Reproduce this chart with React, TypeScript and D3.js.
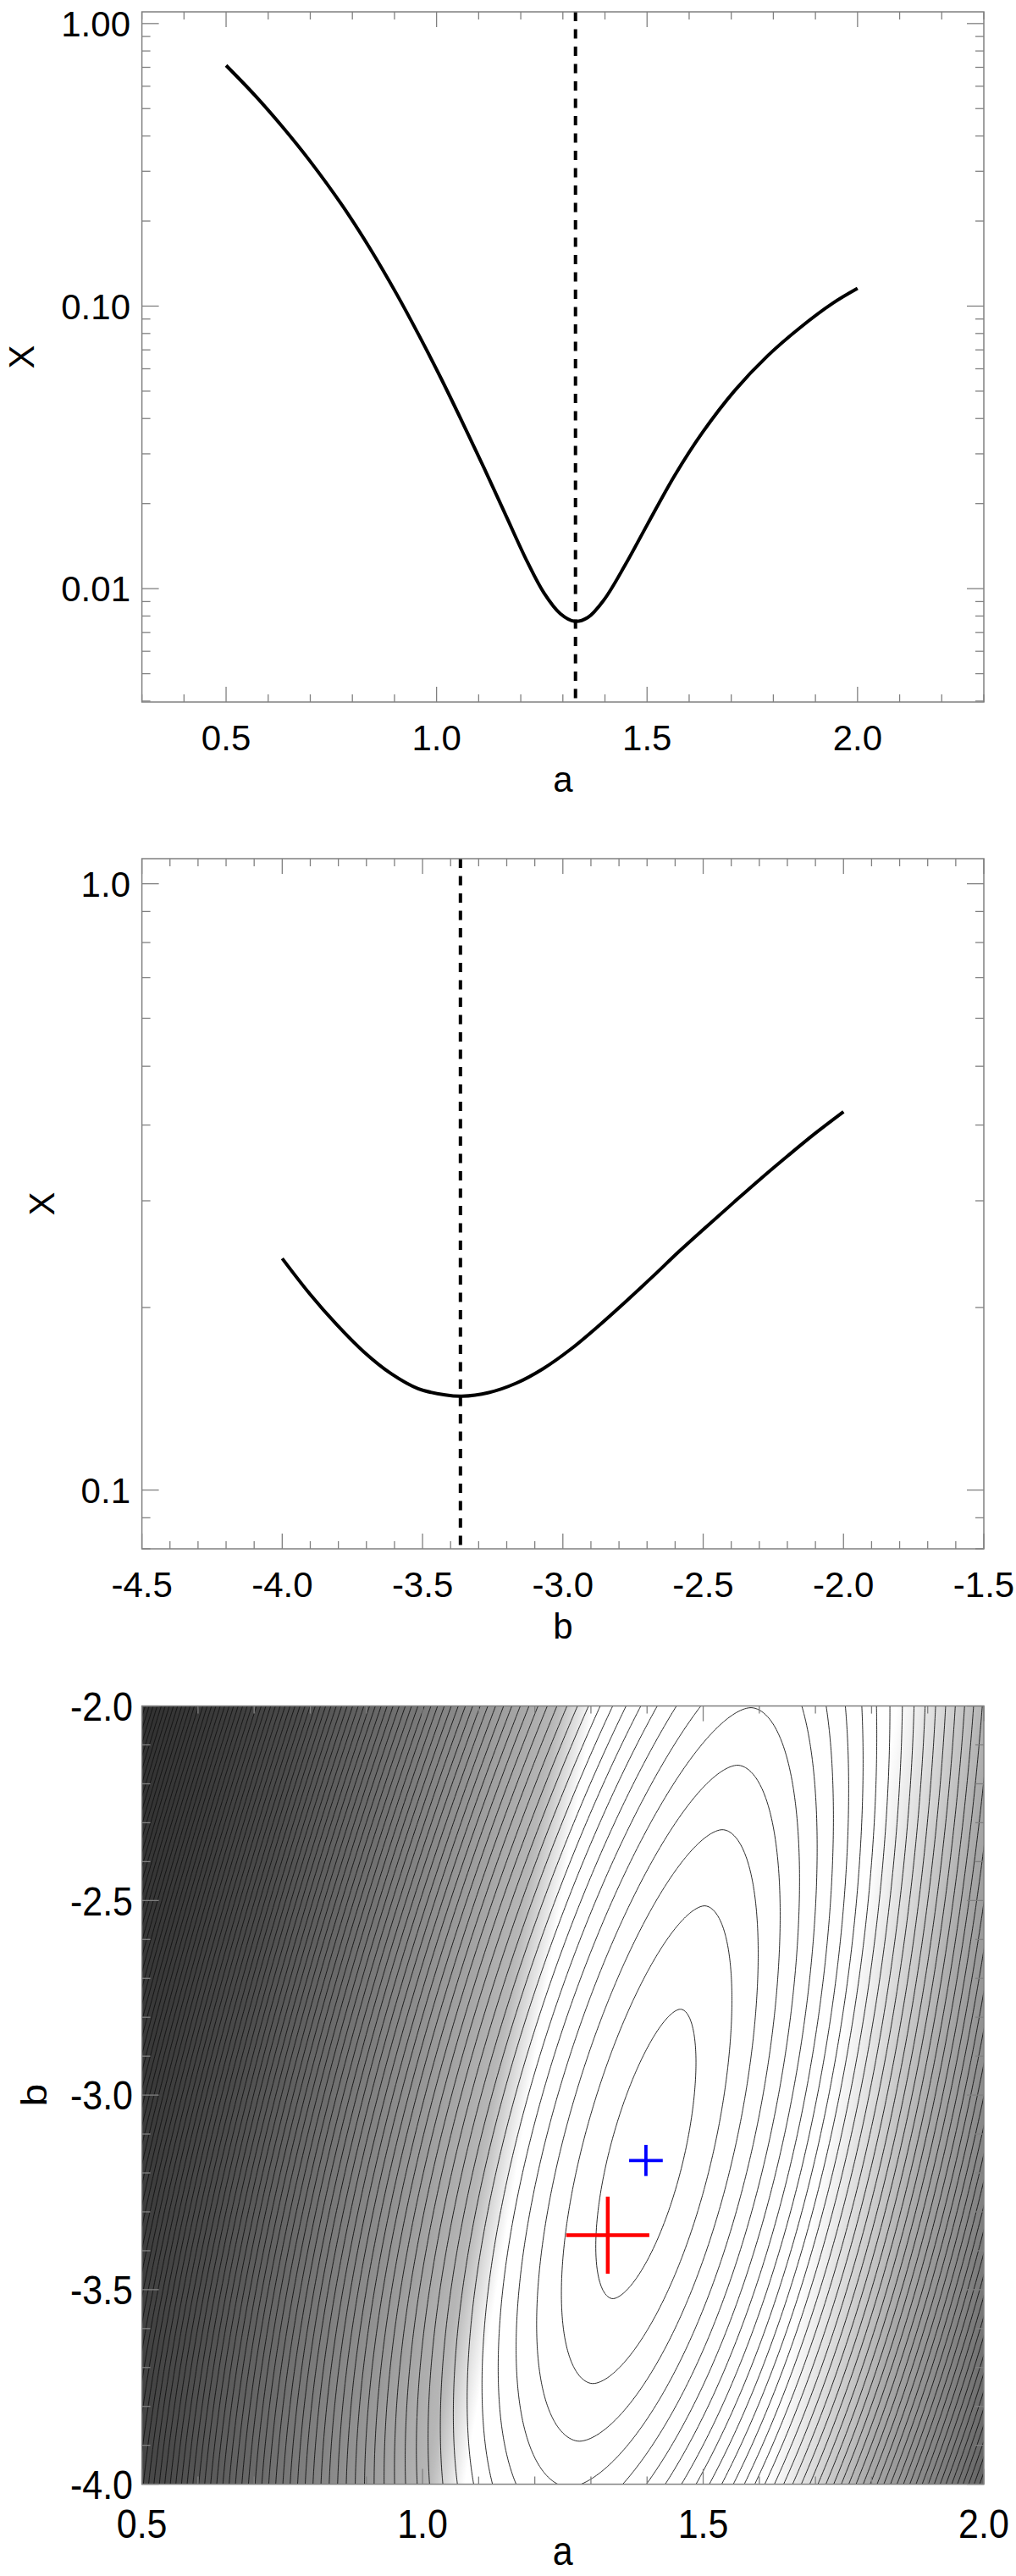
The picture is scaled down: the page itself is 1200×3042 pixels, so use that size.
import React, { useEffect, useRef } from 'react';
import * as d3 from 'd3';

// top panel: X against a
const profileA = [0.5, 0.569, 0.633, 0.698, 0.776, 0.841, 0.905, 0.957, 1.009, 1.061, 1.113, 1.165, 1.216, 1.255, 1.294, 1.328, 1.359, 1.398, 1.449, 1.501, 1.566, 1.631, 1.708, 1.786, 1.864, 1.941, 2.0];
const profileAX = [0.711, 0.556, 0.4325, 0.328, 0.227, 0.1607, 0.1104, 0.0794, 0.0561, 0.0389, 0.0267, 0.0181, 0.0124, 0.00966, 0.00815, 0.00766, 0.0079, 0.00914, 0.0122, 0.0169, 0.0252, 0.0356, 0.0502, 0.0666, 0.084, 0.1023, 0.1155];
const bestA = 1.33;

// middle panel: X against b
const profileB = [-4.0, -3.903, -3.806, -3.709, -3.612, -3.516, -3.419, -3.36, -3.264, -3.167, -3.07, -2.973, -2.876, -2.779, -2.682, -2.585, -2.488, -2.391, -2.295, -2.198, -2.101, -2.0];
const profileBX = [0.241, 0.211, 0.1875, 0.169, 0.1556, 0.147, 0.1435, 0.1428, 0.1448, 0.15, 0.1586, 0.1706, 0.186, 0.204, 0.2245, 0.2477, 0.272, 0.2982, 0.3262, 0.356, 0.3875, 0.4207];
const bestB = -3.365;

// axis ranges and labelled ticks
const range1A = [0.3, 2.3];
const range1X = [0.00397, 1.1];
const range2B = [-4.5, -1.5];
const range2X = [0.08, 1.1];
const range3A = [0.5, 2.0];
const range3B = [-4.0, -2.0];
const ticks1A = [0.5, 1.0, 1.5, 2.0];
const ticks1X = [0.01, 0.1, 1];
const ticks2B = [-4.5, -4.0, -3.5, -3.0, -2.5, -2.0, -1.5];
const ticks2X = [0.1, 1];
const ticks3A = [0.5, 1.0, 1.5, 2.0];
const ticks3B = [-4.0, -3.5, -3.0, -2.5, -2.0];

// bottom panel: surface
const surfMin = [1.397, -3.165];      // centre of the innermost contour
const surfTilt = 0.162;               // shift of the valley in a per unit of b
const surfAcross = [74, 1.8];         // growth across the valley
const surfAlong = [4.237, -0.6];      // growth along the valley
const firstLevel = 0.585;             // first contour, then one per unit
const shadeAxis = [[-4, 1.345], [-2, 1.575]]; // lightest line of the grey image (b, a)
const shadeW = [-1.25, -1.09, -0.94, -0.79, -0.64, -0.49, -0.335, -0.27, 0.27, 0.35, 0.45, 0.55, 0.65, 0.85];
const shadeGray = [0.18, 0.19, 0.23, 0.3, 0.42, 0.56, 0.72, 1, 1, 0.85, 0.66, 0.53, 0.4, 0.28];
const redCross = [1.33, -3.36, 0.074, 0.099];
const blueCross = [1.398, -3.168, 0.03, 0.04];

const FONT = "'Liberation Sans', Arial, Helvetica, sans-serif";
const AXIS = '#808080';

// IDL style labels use a plain hyphen for the minus sign
const fmt1 = (v) => d3.format('.1f')(v).replace('\u2212', '-');
const fmt2 = (v) => d3.format('.2f')(v).replace('\u2212', '-');

const App = () => {
  const ref = useRef<SVGSVGElement>(null);

  useEffect(() => {
    const svg = d3.select(ref.current);
    svg.selectAll('*').remove();

    const left = 167.6, right = 1162;

    const frame = (g, x, y, xMajor, xMinor, yMajor, yMinor) => {
      const [x0, x1] = x.range();
      const [y1, y0] = y.range();
      g.append('rect').attr('x', x0).attr('y', y0).attr('width', x1 - x0).attr('height', y1 - y0)
        .attr('fill', 'none').attr('stroke', AXIS).attr('stroke-width', 1.5);
      const xt = (vals, len) => vals.forEach(v => {
        const p = x(v);
        g.append('line').attr('x1', p).attr('x2', p).attr('y1', y1).attr('y2', y1 - len).attr('stroke', AXIS).attr('stroke-width', 1.3);
        g.append('line').attr('x1', p).attr('x2', p).attr('y1', y0).attr('y2', y0 + len).attr('stroke', AXIS).attr('stroke-width', 1.3);
      });
      const yt = (vals, len) => vals.forEach(v => {
        const p = y(v);
        g.append('line').attr('y1', p).attr('y2', p).attr('x1', x0).attr('x2', x0 + len).attr('stroke', AXIS).attr('stroke-width', 1.3);
        g.append('line').attr('y1', p).attr('y2', p).attr('x1', x1).attr('x2', x1 - len).attr('stroke', AXIS).attr('stroke-width', 1.3);
      });
      xt(xMinor, 9); xt(xMajor, 18);
      yt(yMinor, 10); yt(yMajor, 20);
    };

    const linMinor = (dom, major) => d3.range(Math.round(dom[0] * 10), Math.round(dom[1] * 10) + 1)
      .map(i => i / 10).filter(v => !major.some(m => Math.abs(m - v) < 1e-6));
    const logMinor = (dom) => {
      const out = [];
      [0.001, 0.01, 0.1, 1].forEach(d => d3.range(2, 10).forEach(k => {
        const v = k * d;
        if (v >= dom[0] && v <= dom[1]) out.push(v);
      }));
      return out;
    };

    const labels = (g, x, y, xVals, yVals, xFmt, yFmt, xTitle, yTitle, size, sy, yLabX, xLabDy, titleDy, yTitleX) => {
      const [x0, x1] = x.range();
      const [y1, y0] = y.range();
      xVals.forEach(v => {
        g.append('text').attr('transform', `translate(${x(v)},${y1 + xLabDy}) scale(1,${sy})`)
          .attr('text-anchor', 'middle').attr('font-family', FONT).attr('font-size', size).text(xFmt(v));
      });
      yVals.forEach(v => {
        g.append('text').attr('transform', `translate(${yLabX},${y(v) + size * 0.36 * sy}) scale(1,${sy})`)
          .attr('text-anchor', 'end').attr('font-family', FONT).attr('font-size', size).text(yFmt(v));
      });
      g.append('text').attr('transform', `translate(${(x0 + x1) / 2},${y1 + titleDy}) scale(1,${sy})`)
        .attr('text-anchor', 'middle').attr('font-family', FONT).attr('font-size', size).text(xTitle);
      g.append('text').attr('transform', `translate(${yTitleX},${(y0 + y1) / 2}) scale(1,${sy}) rotate(-90)`)
        .attr('text-anchor', 'middle').attr('font-family', FONT).attr('font-size', size).text(yTitle);
    };

    const profile = (top, bottom, xRange, yRange, xs, ys, best, xMajor, yMajor, yFmt, xTitle, yTitleX) => {
      const g = svg.append('g');
      const x = d3.scaleLinear().domain(xRange).range([left, right]);
      const y = d3.scaleLog().domain(yRange).range([bottom, top]);
      const line = d3.line<number>().x((d, i) => x(xs[i])).y(d => y(d)).curve(d3.curveCatmullRom.alpha(0.5));
      g.append('path').attr('d', line(ys)).attr('fill', 'none').attr('stroke', '#000')
        .attr('stroke-width', 4).attr('stroke-linejoin', 'round');
      g.append('line').attr('x1', x(best)).attr('x2', x(best)).attr('y1', top).attr('y2', bottom)
        .attr('stroke', '#000').attr('stroke-width', 4).attr('stroke-dasharray', '11 9.5');
      frame(g, x, y, xMajor, linMinor(xRange, xMajor), yMajor, logMinor(yRange));
      labels(g, x, y, xMajor, yMajor, fmt1, yFmt, xTitle, 'X', 42, 1, 154, 57, 106, yTitleX);
    };

    profile(14, 829, range1A, range1X, profileA, profileAX, bestA, ticks1A, ticks1X, fmt2, 'a', 40);
    profile(1014, 1829, range2B, range2X, profileB, profileBX, bestB, ticks2B, ticks2X, fmt1, 'b', 64);

    // contour map
    const top3 = 2014.6, bottom3 = 2933.6;
    const x3 = d3.scaleLinear().domain(range3A).range([left, right]);
    const y3 = d3.scaleLinear().domain(range3B).range([bottom3, top3]);
    const g3 = svg.append('g');
    const defs = svg.append('defs');
    defs.append('clipPath').attr('id', 'map-clip').append('rect')
      .attr('x', left).attr('y', top3).attr('width', right - left).attr('height', bottom3 - top3);

    // grey image: constant along lines parallel to the shade axis
    const slope = (shadeAxis[1][1] - shadeAxis[0][1]) / (shadeAxis[1][0] - shadeAxis[0][0]);
    const axisA = (b) => shadeAxis[0][1] + slope * (b - shadeAxis[0][0]);
    const shade = d3.scaleLinear().domain(shadeW).range(shadeGray).clamp(true);
    const sx = (x3(2) - x3(0.5)) / 1.5;
    const syy = (y3(-4) - y3(-2)) / 2;
    const norm = Math.hypot(syy, slope * sx);
    const nx = syy / norm, ny = slope * sx / norm;
    const k = (syy / sx + slope * slope * sx / syy) / norm;
    const cx = x3(axisA(-3)), cy = y3(-3);
    const wLo = -1.4, wHi = 1.0;
    const grad = defs.append('linearGradient').attr('id', 'shade').attr('gradientUnits', 'userSpaceOnUse')
      .attr('x1', cx + nx * wLo / k).attr('y1', cy + ny * wLo / k)
      .attr('x2', cx + nx * wHi / k).attr('y2', cy + ny * wHi / k);
    d3.range(wLo, wHi + 1e-9, 0.01).forEach(w => {
      const v = Math.round(shade(w) * 255);
      grad.append('stop').attr('offset', (w - wLo) / (wHi - wLo)).attr('stop-color', d3.rgb(v, v, v).formatHex());
    });
    g3.append('rect').attr('x', left).attr('y', top3).attr('width', right - left).attr('height', bottom3 - top3)
      .attr('fill', 'url(#shade)');

    const field = (a, b) => {
      const v = b - surfMin[1];
      const u = a - surfMin[0] - surfTilt * v;
      const across = surfAcross[0] * Math.pow(Math.abs(u), surfAcross[1]);
      const q = surfAlong[1];
      const along = surfAlong[0] * (Math.exp(q * v) - 1 - q * v) * 2 / (q * q);
      return across + along;
    };
    const pad = 6;
    const gx0 = left - pad, gy0 = top3 - pad;
    const gw = right - left + 2 * pad, gh = bottom3 - top3 + 2 * pad;
    const n = Math.round(gw / 2.5), m = Math.round(gh / 2.5);
    const cw = gw / n, ch = gh / m;
    const values = new Array(n * m);
    for (let j = 0; j < m; j++) {
      const b = y3.invert(gy0 + (j + 0.5) * ch);
      for (let i = 0; i < n; i++) {
        values[j * n + i] = field(x3.invert(gx0 + (i + 0.5) * cw), b);
      }
    }
    const levels = d3.range(firstLevel, d3.max(values), 1);
    const contours = d3.contours().size([n, m]).thresholds(levels)(values);
    const path = d3.geoPath(d3.geoTransform({
      point(px, py) { this.stream.point(gx0 + px * cw, gy0 + py * ch); }
    }));
    g3.append('g').attr('clip-path', 'url(#map-clip)').selectAll('path').data(contours).join('path')
      .attr('d', path).attr('fill', 'none').attr('stroke', '#111').attr('stroke-width', 0.9);

    const cross = (c, color, width) => {
      g3.append('line').attr('x1', x3(c[0] - c[2])).attr('x2', x3(c[0] + c[2])).attr('y1', y3(c[1])).attr('y2', y3(c[1]))
        .attr('stroke', color).attr('stroke-width', width);
      g3.append('line').attr('x1', x3(c[0])).attr('x2', x3(c[0])).attr('y1', y3(c[1] - c[3])).attr('y2', y3(c[1] + c[3]))
        .attr('stroke', color).attr('stroke-width', width);
    };
    cross(redCross, '#ff0000', 4.5);
    cross(blueCross, '#0000ff', 3.8);

    frame(g3, x3, y3, ticks3A, linMinor(range3A, ticks3A), ticks3B, linMinor(range3B, ticks3B));
    labels(g3, x3, y3, ticks3A, ticks3B, fmt1, fmt1, 'a', 'b', 43, 1.12, 157, 63, 95, 55);
  }, []);

  return (
    <svg ref={ref} width={1200} height={3042} style={{ position: 'absolute', left: 0, top: 0, background: '#fff' }} />
  );
};

export default App;
